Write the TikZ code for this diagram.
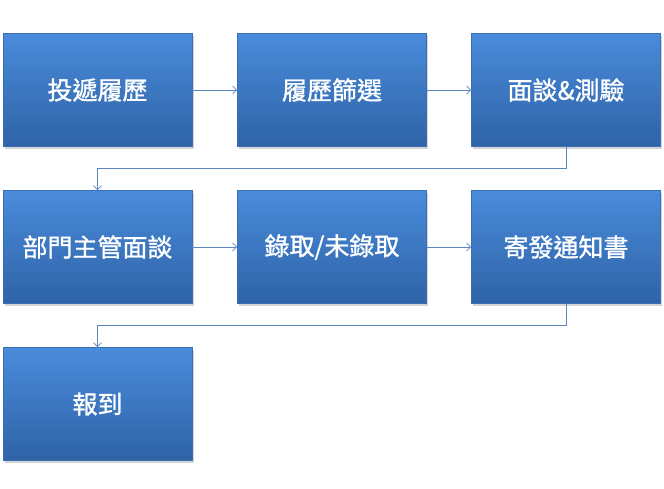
\documentclass[tikz,border=0pt]{standalone}
\usepackage{fontspec}
\newfontfamily\cjk[FakeBold=1.2]{Noto Sans CJK TC}
\usetikzlibrary{shadows,arrows.meta}
\definecolor{topblue}{HTML}{4A8BDB}
\definecolor{botblue}{HTML}{2E63A6}
\definecolor{edgeblue}{HTML}{3A70B5}
\definecolor{linkblue}{HTML}{5B86C0}
\begin{document}
\begin{tikzpicture}[x=1pt,y=-1pt,
  stagebox/.style={rectangle,minimum width=189pt,minimum height=113pt,inner sep=0pt,
    top color=topblue,bottom color=botblue,draw=edgeblue,line width=0.6pt,
    drop shadow={shadow xshift=1.5pt,shadow yshift=-2pt,opacity=0.35},
    text=white,font=\cjk\fontsize{25}{28}\selectfont},
  link/.style={draw=linkblue,line width=0.8pt,-{Straight Barb[length=4pt,width=8pt]}}]
\useasboundingbox (0,0) rectangle (664,488);
\node[stagebox] (a) at (97.5,90) {投遞履歷};
\node[stagebox] (b) at (332,90) {履歷篩選};
\node[stagebox] (c) at (566,90) {面談\&測驗};
\node[stagebox] (d) at (97.5,247) {部門主管面談};
\node[stagebox] (e) at (332,247) {錄取/未錄取};
\node[stagebox] (f) at (566,247) {寄發通知書};
\node[stagebox] (g) at (97.5,404) {報到};
\draw[link] (a) -- (b);
\draw[link] (b) -- (c);
\draw[link] (d) -- (e);
\draw[link] (e) -- (f);
\draw[link] (c.south) |- (332,168.5) -| (d.north);
\draw[link] (f.south) |- (332,325.5) -| (g.north);
\end{tikzpicture}
\end{document}
